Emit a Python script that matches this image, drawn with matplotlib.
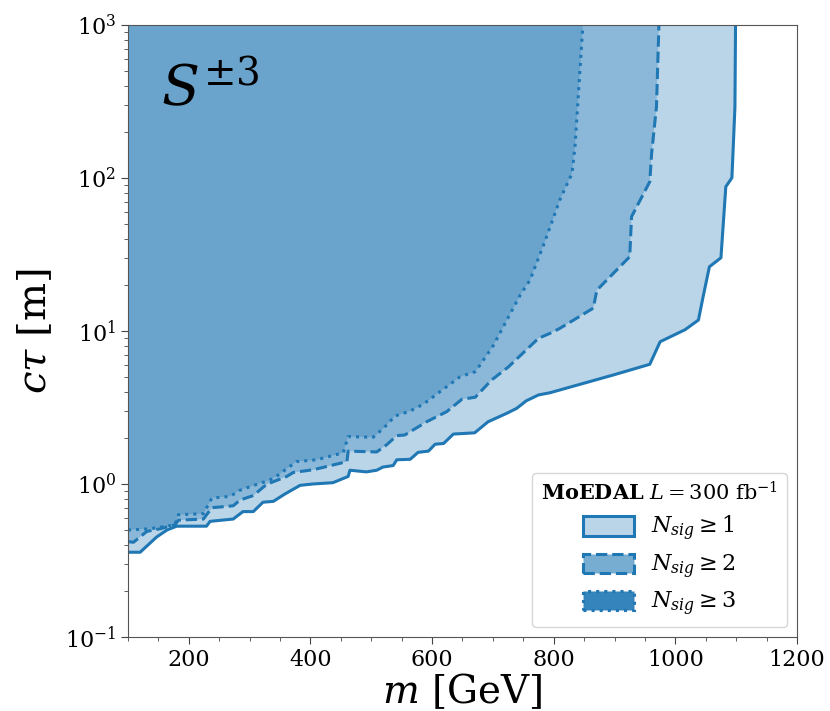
import matplotlib
matplotlib.use("Agg")
import matplotlib.pyplot as plt
from matplotlib.patches import Patch
from matplotlib.ticker import AutoMinorLocator

plt.rcParams["font.family"] = ["DejaVu Serif"]
plt.rcParams["mathtext.fontset"] = "dejavuserif"

# Exclusion boundaries: mass [GeV] vs. c*tau [m]
m_n1 = [100, 120, 147, 164, 180, 229, 235, 273, 289, 306, 322, 339, 358, 383, 404, 437,
        462, 465, 492, 509, 519, 536, 542, 564, 577, 594, 605, 619, 635, 670, 692, 723,
        739, 755, 775, 794, 898, 958, 975, 1016, 1038, 1046, 1056, 1075, 1083, 1093,
        1095, 1098, 1099]
ct_n1 = [0.358, 0.358, 0.45, 0.50, 0.53, 0.53, 0.57, 0.59, 0.66, 0.66, 0.76, 0.77, 0.86,
         0.98, 1.00, 1.02, 1.12, 1.23, 1.20, 1.23, 1.29, 1.32, 1.44, 1.45, 1.61, 1.64,
         1.82, 1.84, 2.12, 2.16, 2.55, 2.90, 3.12, 3.50, 3.82, 3.95, 5.16, 6.06, 8.51,
         10.2, 11.8, 17.0, 26.3, 30.1, 87.7, 100.4, 152, 292, 1000]

m_n2 = [100, 109, 131, 153, 177, 183, 224, 238, 273, 284, 306, 328, 361, 372, 405, 460,
        462, 509, 525, 542, 555, 591, 624, 649, 671, 698, 725, 775, 794, 810, 865, 871,
        925, 928, 958, 961, 969, 973]
ct_n2 = [0.42, 0.416, 0.49, 0.51, 0.54, 0.58, 0.59, 0.70, 0.72, 0.785, 0.84, 0.995, 1.12,
         1.19, 1.24, 1.40, 1.64, 1.62, 1.80, 2.07, 2.09, 2.55, 2.97, 3.58, 3.69, 4.79,
         5.80, 8.96, 9.66, 10.4, 14.1, 18.5, 30.6, 55.9, 94.7, 145, 292, 1000]

m_n3 = [100, 136, 177, 183, 224, 238, 268, 284, 312, 333, 345, 377, 410, 454, 462, 503,
        520, 539, 564, 586, 613, 646, 671, 679, 701, 723, 745, 761, 785, 810, 830, 835,
        840, 848]
ct_n3 = [0.50, 0.51, 0.54, 0.63, 0.64, 0.81, 0.83, 0.91, 0.995, 1.06, 1.13, 1.40, 1.44,
         1.60, 2.04, 2.02, 2.31, 2.78, 3.0, 3.33, 4.01, 5.02, 5.42, 6.0, 8.08, 11.8, 17.2,
         21.5, 38.0, 71.8, 107, 160, 324, 1000]

labels = [r"$N_{sig} \geq 1$", r"$N_{sig} \geq 2$", r"$N_{sig} \geq 3$"]
styles = ["-", "--", ":"]
legend_alpha = [0.3, 0.6, 0.9]
x_min, x_max = 100, 1200
y_min, y_max = 0.1, 1000

blue = "#1f77b4"

fig = plt.figure(figsize=(8.3, 7.11), dpi=100)
ax = fig.add_axes([0.1542, 0.1041, 0.806, 0.8607])

handles = []
for mm, ct, ls, lab, la in zip([m_n1, m_n2, m_n3], [ct_n1, ct_n2, ct_n3], styles, labels,
                               legend_alpha):
    # region above/left of each boundary, closed along the top-left corner
    xs = [x_min, x_min] + mm + [x_min]
    ys = [ct[0], y_max] + ct + [y_max]
    ax.fill(xs, ys, color=blue, alpha=0.3, lw=0)
    ax.plot(mm, ct, color=blue, ls=ls, lw=2.2)
    handles.append(Patch(facecolor=(0.122, 0.467, 0.706, la), edgecolor=blue,
                         linestyle=ls, linewidth=2.2, label=lab))

ax.set_yscale("log")
ax.set_xlim(x_min, x_max)
ax.set_ylim(y_min, y_max)
ax.xaxis.set_minor_locator(AutoMinorLocator(4))
ax.tick_params(axis="both", which="major", labelsize=16, length=5, color="#444444")
ax.tick_params(axis="both", which="minor", length=3, color="#444444")
for sp in ax.spines.values():
    sp.set_color("#555555")

ax.set_xlabel(r"$m$ [GeV]", fontsize=28, labelpad=0)
ax.set_ylabel(r"$c\tau$ [m]", fontsize=29, labelpad=8)

ax.text(0.05, 0.868, r"$S^{\pm 3}$", transform=ax.transAxes, fontsize=40)

leg = ax.legend(handles=handles, loc="lower right", fontsize=16,
                title=r"$\mathbf{MoEDAL}$ $L = 300$ fb$^{-1}$", title_fontsize=15,
                handlelength=2.3, handleheight=0.95, labelspacing=0.42,
                borderaxespad=0.45)
leg.get_frame().set_edgecolor("#cccccc")

fig.savefig("out.png", dpi=100)
